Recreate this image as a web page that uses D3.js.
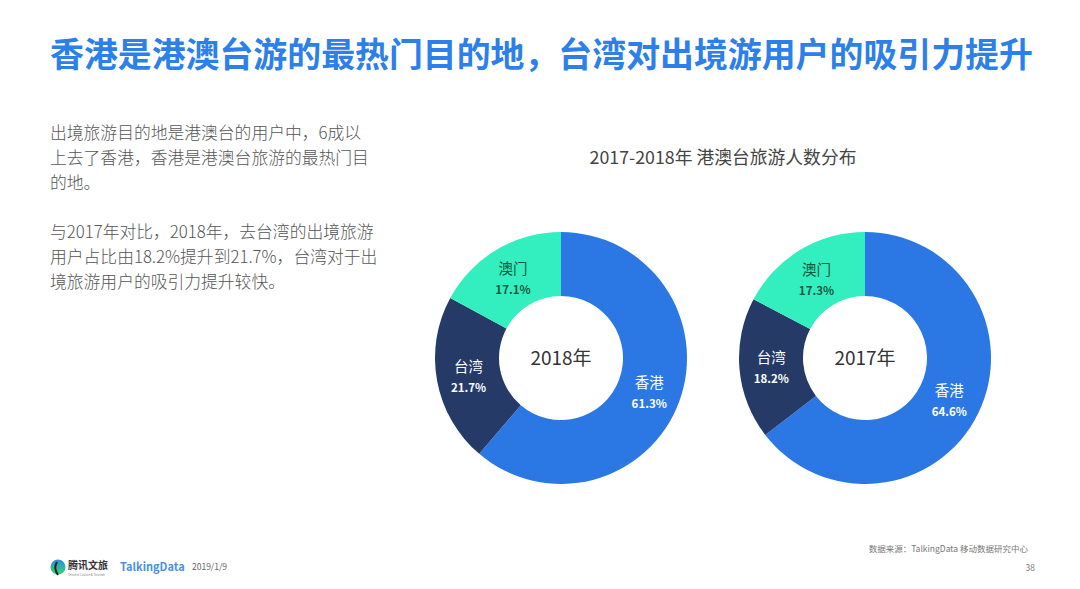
<!DOCTYPE html>
<html><head><meta charset="utf-8">
<script src="https://cdn.jsdelivr.net/npm/d3@7"></script>
<style>
html,body{margin:0;padding:0;background:#fff;}
svg{display:block;font-family:"Noto Sans CJK SC","Noto Sans",sans-serif;}
</style></head>
<body><svg id="c" width="1080" height="589"></svg>
<script>
const categories = ["香港", "台湾", "澳门"];
const years = ["2018年", "2017年"];
const values2018 = [61.3, 21.7, 17.1];
const values2017 = [64.6, 18.2, 17.3];
const colors = ["#2b78e4", "#263a68", "#33efc0"];
const labelColors = ["#ffffff", "#ffffff", "#14583c"];
const title = "香港是港澳台游的最热门目的地，台湾对出境游用户的吸引力提升";
const chartTitle = "2017-2018年 港澳台旅游人数分布";
const bodyLines = [
  "出境旅游目的地是港澳台的用户中，6成以",
  "上去了香港，香港是港澳台旅游的最热门目",
  "的地。",
  "",
  "与2017年对比，2018年，去台湾的出境旅游",
  "用户占比由18.2%提升到21.7%，台湾对于出",
  "境旅游用户的吸引力提升较快。"
];

const svg = d3.select("#c");

svg.append("text").attr("x", 50).attr("y", 67)
  .attr("font-size", 33.9).attr("font-weight", 700).attr("fill", "#2d7fe9")
  .text(title);

bodyLines.forEach((l, i) => {
  svg.append("text").attr("x", 50).attr("y", 139 + i * 24.8)
    .attr("font-size", 16.8).attr("font-weight", 300).attr("fill", "#555").text(l);
});

svg.append("text").attr("x", 723).attr("y", 164).attr("text-anchor", "middle")
  .attr("font-size", 17.8).attr("fill", "#444").text(chartTitle);

const datasets = [values2018, values2017];
const centers = [[561, 358], [865, 358]];
const pie = d3.pie().sort(null).value(d => d);
const arc = d3.arc().innerRadius(62).outerRadius(126);
const labelArc = d3.arc().innerRadius(94).outerRadius(94);

datasets.forEach((vals, k) => {
  const g = svg.append("g").attr("transform", `translate(${centers[k][0]},${centers[k][1]})`);
  const arcs = pie(vals);
  g.selectAll("path").data(arcs).join("path")
    .attr("d", arc).attr("fill", (d, i) => colors[i]);
  arcs.forEach((d, i) => {
    const [x, y] = labelArc.centroid(d);
    g.append("text").attr("x", x).attr("y", y - 3).attr("text-anchor", "middle")
      .attr("font-size", 14.5).attr("fill", labelColors[i]).text(categories[i]);
    g.append("text").attr("x", x).attr("y", y + 17).attr("text-anchor", "middle")
      .attr("font-size", 11.5).attr("font-weight", 700).attr("fill", labelColors[i])
      .text(d3.format(".1f")(vals[i]) + "%");
  });
  g.append("text").attr("x", 0).attr("y", 7).attr("text-anchor", "middle")
    .attr("font-size", 19).attr("fill", "#333").text(years[k]);
});

// footer
const grad = svg.append("defs").append("linearGradient").attr("id", "lg")
  .attr("x1", 0).attr("y1", 0).attr("x2", 0).attr("y2", 1);
grad.append("stop").attr("offset", "0%").attr("stop-color", "#2a8fe0");
grad.append("stop").attr("offset", "100%").attr("stop-color", "#3bd46b");
svg.append("circle").attr("cx", 58).attr("cy", 567).attr("r", 7.5).attr("fill", "url(#lg)");
svg.append("path").attr("d", "M57,562 q-4,6 1,13").attr("stroke", "#222").attr("stroke-width", 2).attr("fill", "none");
svg.append("text").attr("x", 68).attr("y", 569).attr("font-size", 10).attr("font-weight", 700)
  .attr("fill", "#333").text("腾讯文旅");
svg.append("text").attr("x", 68).attr("y", 576).attr("font-size", 3).attr("fill", "#888").text("Tencent Culture & Tourism");
svg.append("text").attr("x", 120).attr("y", 571).attr("font-size", 11).attr("font-weight", 700)
  .attr("fill", "#4a90e2").text("TalkingData");
svg.append("text").attr("x", 192).attr("y", 570).attr("font-size", 8.5).attr("fill", "#666").text("2019/1/9");
svg.append("text").attr("x", 1028).attr("y", 552).attr("text-anchor", "end").attr("font-size", 8.5)
  .attr("fill", "#777").text("数据来源：TalkingData  移动数据研究中心");
svg.append("text").attr("x", 1035).attr("y", 571).attr("text-anchor", "end").attr("font-size", 8.5)
  .attr("fill", "#777").text("38");
</script>
</body></html>
